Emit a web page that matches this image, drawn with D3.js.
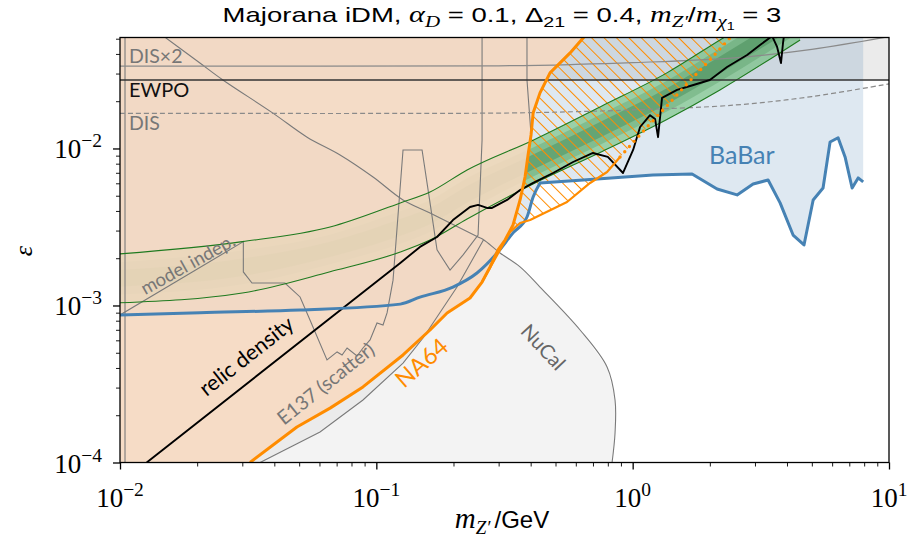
<!DOCTYPE html>
<html>
<head>
<meta charset="utf-8">
<script src="https://cdnjs.cloudflare.com/ajax/libs/d3/7.8.5/d3.min.js"></script>
<style>
  body { margin: 0; background: #fff; }
  svg { display: block; }
</style>
</head>
<body>
<svg id="chart" width="914" height="539"></svg>
<script>
// ---------- data (mass m_Z' in GeV, kinetic mixing epsilon) ----------
const xTickValues = [0.01, 0.1, 1, 10];
const xTickExponents = ["−2", "−1", "0", "1"];
const yTickValues = [1e-4, 1e-3, 1e-2];
const yTickExponents = ["−4", "−3", "−2"];

// BaBar mono-photon bound
const babarMass = [0.01, 0.0205, 0.0504, 0.124, 0.148, 0.199, 0.247, 0.296, 0.3415, 0.387, 0.409, 0.435, 0.641, 1.2, 1.705, 2.135, 2.555, 2.95, 3.376, 3.76, 4.225, 4.66, 5.06, 5.53, 5.89, 6.33, 6.74, 7.18, 7.58, 7.93];
const babarEps  = [8.7e-4, 9.0e-4, 9.36e-4, 1.02e-3, 1.13e-3, 1.31e-3, 1.61e-3, 2.16e-3, 2.9e-3, 3.66e-3, 4.91e-3, 6.03e-3, 6.3e-3, 6.78e-3, 6.88e-3, 5.52e-3, 5.06e-3, 5.94e-3, 6.3e-3, 4.5e-3, 2.81e-3, 2.43e-3, 4.7e-3, 5.6e-3, 1.1e-2, 1.17e-2, 8.83e-3, 5.6e-3, 6.49e-3, 6.12e-3];

// relic density target
const relicMass = [0.01271, 0.124, 0.148, 0.1725, 0.199, 0.232, 0.2494, 0.2703, 0.2827, 0.3236, 0.3637, 0.409, 0.489, 0.5854, 0.7, 0.8, 0.917, 1.004, 1.069, 1.169, 1.223, 1.256, 1.302, 1.49, 1.675, 2.0, 2.335, 2.795, 3.14, 3.5, 3.66, 3.79, 3.86, 3.92];
const relicEps  = [1e-4, 1.866e-3, 2.36e-3, 2.73e-3, 3.5e-3, 4.24e-3, 4.37e-3, 4.18e-3, 4.18e-3, 4.7e-3, 5.44e-3, 6.03e-3, 6.98e-3, 8.2e-3, 9.36e-3, 8.83e-3, 6.98e-3, 9.78e-3, 1.37e-2, 1.63e-2, 1.54e-2, 1.18e-2, 2.1e-2, 2.36e-2, 2.5e-2, 2.73e-2, 3.3e-2, 3.94e-2, 4.56e-2, 5.2e-2, 4.43e-2, 3.5e-2, 4.7e-2, 5.7e-2];

// NA64 missing-energy bound
const na64Mass = [0.03215, 0.049, 0.066, 0.0887, 0.1271, 0.162, 0.1888, 0.232, 0.2585, 0.2778, 0.2984, 0.3178, 0.3415, 0.3637, 0.3803, 0.3908, 0.4014, 0.409, 0.435, 0.476, 0.570, 0.641, 0.682];
const na64Eps  = [1e-4, 1.683e-4, 2.22e-4, 3.03e-4, 4.84e-4, 6.98e-4, 8.96e-4, 1.116e-3, 1.41e-3, 1.76e-3, 2.26e-3, 2.61e-3, 3.26e-3, 4.7e-3, 6.58e-3, 9.09e-3, 1.22e-2, 1.68e-2, 2.26e-2, 3.03e-2, 4.06e-2, 5.06e-2, 5.6e-2];
// inner NA64 edge (solid) and its extension (dotted)
const na64InnerMass = [0.2585, 0.3324, 0.3637, 0.398, 0.5546, 0.682, 0.7945, 0.893];
const na64InnerEps  = [1.41e-3, 2.94e-3, 3.35e-3, 3.5e-3, 4.56e-3, 6.03e-3, 7.08e-3, 8.83e-3];
const na64ProjMass = [0.893, 1.138, 1.362, 1.63, 2.0, 2.356, 2.51];
const na64ProjEps  = [8.83e-3, 1.37e-2, 1.87e-2, 2.58e-2, 3.66e-2, 4.91e-2, 5.52e-2];

// model-independent band
const bandMass  = [0.01, 0.03, 0.066, 0.124, 0.162, 0.226, 0.409, 0.746, 1.36, 2.19, 4.5];
const bandUpper = [2.13e-3, 2.55e-3, 3.16e-3, 4.5e-3, 5.28e-3, 7.3e-3, 1.13e-2, 1.84e-2, 3.03e-2, 4.91e-2, 1.0e-1];
const bandLower = [1.04e-3, 1.2e-3, 1.64e-3, 2.19e-3, 2.61e-3, 3.56e-3, 5.94e-3, 9.43e-3, 1.53e-2, 2.36e-2, 4.91e-2];

// beam dump contours
const dumpUpperMass = [0.0137, 0.0205, 0.0252, 0.0395, 0.0537, 0.0722, 0.0971, 0.1271, 0.162, 0.2494, 0.262, 0.3038, 0.3637, 0.435, 0.6235, 0.7945, 0.8536, 0.8536, 0.8311];
const dumpUpperEps  = [5.69e-2, 3.5e-2, 2.73e-2, 1.68e-2, 1.18e-2, 9.09e-3, 6.58e-3, 4.7e-3, 3.88e-3, 2.73e-3, 2.62e-3, 2.16e-3, 1.76e-3, 1.31e-3, 6.98e-4, 4.06e-4, 2.5e-4, 1.54e-4, 1e-4];
const e137LowerMass = [0.0352, 0.0603, 0.0887, 0.1271, 0.1521, 0.2064, 0.262];
const e137LowerEps  = [1e-4, 1.564e-4, 2.5e-4, 4.3e-4, 6.21e-4, 1.31e-3, 2.62e-3];
const scatterMass = [0.01, 0.03028, 0.03028, 0.03273, 0.044, 0.0504, 0.0551, 0.0642, 0.0703, 0.0735, 0.0769, 0.0841, 0.0887, 0.0945, 0.1006, 0.1062, 0.1101, 0.1162, 0.1271, 0.1508, 0.162, 0.1725, 0.1939, 0.218, 0.2494, 0.2585, 0.2585];
const scatterEps  = [8.7e-4, 2.55e-3, 1.635e-3, 1.39e-3, 1.39e-3, 1.133e-3, 8.08e-4, 4.5e-4, 5.06e-4, 4.84e-4, 5.36e-4, 4.77e-4, 5.36e-4, 6.03e-4, 7.73e-4, 7.51e-4, 8.96e-4, 1.45e-3, 9.78e-3, 9.78e-3, 4.5e-3, 2.26e-3, 1.68e-3, 2.1e-3, 2.81e-3, 1.13e-2, 5.5e-2];
const scatterRightMass = [0.4014, 0.387, 0.387];
const scatterRightEps  = [1.22e-2, 2.73e-2, 5.5e-2];
const edgeMass = [0.01046, 0.01046];
const edgeEps  = [1e-4, 5.5e-2];

// horizontal constraints
const disMass  = [0.01, 0.3, 0.6, 1.0, 2.5, 5.0, 10];
const disEps   = [1.675e-2, 1.68e-2, 1.715e-2, 1.76e-2, 1.89e-2, 2.14e-2, 2.58e-2];
const dis2Eps  = [3.35e-2, 3.36e-2, 3.43e-2, 3.52e-2, 3.78e-2, 4.28e-2, 5.16e-2];
const ewpoMass = [0.01, 10];
const ewpoEps  = [2.73e-2, 2.73e-2];

// ---------- layout ----------
const svg = d3.select("#chart");
const plot = { left: 120, right: 889, top: 37.5, bottom: 462.5 };
const yTop = 0.0509;
const x = d3.scaleLog().domain([0.01, 10]).range([plot.left, plot.right]);
const y = d3.scaleLog().domain([1e-4, yTop]).range([plot.bottom, plot.top]);

const zip = (ms, es) => ms.map((m, i) => [m, es[i]]);
const line = d3.line().x(d => x(d[0])).y(d => y(d[1]));
const smooth = d3.line().x(d => x(d[0])).y(d => y(d[1])).curve(d3.curveCatmullRom.alpha(0.5));
const mono = d3.line().x(d => x(d[0])).y(d => y(d[1])).curve(d3.curveMonotoneX);

const defs = svg.append("defs");
defs.append("clipPath").attr("id", "plotClip").append("rect")
  .attr("x", plot.left).attr("y", plot.top)
  .attr("width", plot.right - plot.left).attr("height", plot.bottom - plot.top);
const hatch = defs.append("pattern").attr("id", "hatch")
  .attr("patternUnits", "userSpaceOnUse").attr("width", 8.8).attr("height", 8.8)
  .attr("patternTransform", "rotate(-45)");
hatch.append("line").attr("x1", 4.4).attr("y1", -1).attr("x2", 4.4).attr("y2", 10)
  .attr("stroke", "#ff8c00").attr("stroke-width", 1);

const g = svg.append("g").attr("clip-path", "url(#plotClip)");

// grey excluded regions
const epsMax = 0.06;
g.append("path")
  .attr("d", line([[0.01, ewpoEps[0]], [10, ewpoEps[1]], [10, epsMax], [0.01, epsMax]]) + "Z")
  .attr("fill", "#ebebeb");
const upperLeft = zip(dumpUpperMass, dumpUpperEps).filter(d => d[0] <= 0.262);
const upperRight = zip(dumpUpperMass, dumpUpperEps).filter(d => d[0] >= 0.262);
const lowerPts = zip(e137LowerMass, e137LowerEps);
g.append("path")
  .attr("d", line([[0.01, epsMax], ...upperLeft, ...lowerPts.slice().reverse(), [0.01, 1e-4]]) + "Z")
  .attr("fill", "#ebebeb");
g.append("path")
  .attr("d", line([...lowerPts, ...upperRight.slice(1)]) + "Z")
  .attr("fill", "#f3f3f3");

// BaBar region
const babarPts = zip(babarMass, babarEps);
g.append("path")
  .attr("d", line([...babarPts, [babarMass[babarMass.length - 1], epsMax], [0.01, epsMax]]) + "Z")
  .attr("fill", "rgba(70,130,180,0.18)");

// model-independent band with a darker core
function subBand(t0, t1) {
  const at = (i, t) => {
    const a = Math.log10(bandLower[i]), b = Math.log10(bandUpper[i]);
    return Math.pow(10, a + t * (b - a));
  };
  return d3.area().x(d => x(d)).y0((d, i) => y(at(i, t0))).y1((d, i) => y(at(i, t1)))
    .curve(d3.curveMonotoneX)(bandMass);
}
[[0, 1, "rgba(70,180,80,0.45)"], [0.17, 0.83, "rgba(40,125,55,0.22)"], [0.33, 0.67, "rgba(30,105,45,0.28)"]]
  .forEach(([a, b, c]) => g.append("path").attr("d", subBand(a, b)).attr("fill", c));

// NA64 excluded region
const na64Pts = zip(na64Mass, na64Eps);
g.append("path")
  .attr("d", line([[0.01, 1e-4], ...na64Pts, [0.01, epsMax]]) + "Z")
  .attr("fill", "rgba(247,217,192,0.88)");

// hatched NA64 projection region
const innerPts = zip(na64InnerMass, na64InnerEps);
const projPts = zip(na64ProjMass, na64ProjEps);
const hatchTop = na64Pts.filter(d => d[0] >= 0.2585);
g.append("path")
  .attr("d", line([...hatchTop, ...projPts.slice().reverse(), ...innerPts.slice().reverse()]) + "Z")
  .attr("fill", "url(#hatch)");

// grey contour lines
const grey = "#7a7a7a";
[[edgeMass, edgeEps], [scatterMass, scatterEps], [e137LowerMass, e137LowerEps], [scatterRightMass, scatterRightEps]].forEach(([m, e]) =>
  g.append("path").attr("d", line(zip(m, e))).attr("fill", "none").attr("stroke", grey).attr("stroke-width", 1.1));
g.append("path").attr("d", smooth(zip(dumpUpperMass, dumpUpperEps)))
  .attr("fill", "none").attr("stroke", grey).attr("stroke-width", 1.1);
g.append("path").attr("d", smooth(zip(disMass, dis2Eps)))
  .attr("fill", "none").attr("stroke", "#8a8a8a").attr("stroke-width", 1.2);
g.append("path").attr("d", smooth(zip(disMass, disEps)))
  .attr("fill", "none").attr("stroke", "#8a8a8a").attr("stroke-width", 1.2).attr("stroke-dasharray", "5,3");

// band edges
[bandUpper, bandLower].forEach(arr =>
  g.append("path").attr("d", mono(zip(bandMass, arr)))
    .attr("fill", "none").attr("stroke", "#1f7a1f").attr("stroke-width", 1.1));

// EWPO
g.append("path").attr("d", line(zip(ewpoMass, ewpoEps)))
  .attr("fill", "none").attr("stroke", "#333").attr("stroke-width", 1.5);

// relic density
g.append("path").attr("d", line(zip(relicMass, relicEps)))
  .attr("fill", "none").attr("stroke", "#000").attr("stroke-width", 1.9).attr("stroke-linejoin", "round");

// BaBar line: smooth rise at low mass, piecewise above
g.append("path").attr("d", mono(babarPts.slice(0, 12)))
  .attr("fill", "none").attr("stroke", "#4682b4").attr("stroke-width", 3).attr("stroke-linecap", "round");
g.append("path").attr("d", line(babarPts.slice(11)))
  .attr("fill", "none").attr("stroke", "#4682b4").attr("stroke-width", 3).attr("stroke-linejoin", "round");

// NA64 lines
g.append("path").attr("d", line(na64Pts))
  .attr("fill", "none").attr("stroke", "#ff8c00").attr("stroke-width", 3).attr("stroke-linejoin", "round");
g.append("path").attr("d", line(innerPts))
  .attr("fill", "none").attr("stroke", "#ff8c00").attr("stroke-width", 2.2).attr("stroke-linejoin", "round");
g.append("path").attr("d", line(projPts))
  .attr("fill", "none").attr("stroke", "#ff8c00").attr("stroke-width", 3.4)
  .attr("stroke-linecap", "round").attr("stroke-dasharray", "0,7");

// ---------- in-plot labels ----------
const sans = "Lato, 'Open Sans', sans-serif";
function label(txt, px, py, angle, size, color, anchor) {
  svg.append("text").attr("transform", `translate(${px},${py}) rotate(${angle})`)
    .attr("text-anchor", anchor || "middle").attr("font-family", sans)
    .attr("font-size", size).attr("fill", color).text(txt);
}
label("DIS×2", 129, 62.5, 0, 19.5, "#777", "start");
label("EWPO", 129, 96.5, 0, 20, "#111", "start");
label("DIS", 129, 129.5, 0, 19.5, "#777", "start");
label("BaBar", 709, 163.5, 0, 25, "#4682b4", "start");
label("relic density", 251, 362, -38.2, 21.5, "#000");
label("model indep.", 191, 270, -29, 18.5, "#777");
label("E137 (scatter)", 330, 389, -38.7, 19.5, "#777");
label("NA64", 427, 369, -41, 23.5, "#ff8c00");
label("NuCal", 538, 352, 47, 20, "#666");

// ---------- axes ----------
const axisG = svg.append("g");
const minorX = x.ticks().filter(v => !xTickValues.some(t => Math.abs(t - v) / t < 1e-6));
const minorY = y.ticks().filter(v => !yTickValues.some(t => Math.abs(t - v) / t < 1e-6));
axisG.append("g").attr("transform", `translate(0,${plot.bottom})`)
  .call(d3.axisBottom(x).tickValues(minorX).tickSize(4).tickFormat(""))
  .call(s => s.select(".domain").remove()).selectAll("line").attr("stroke-width", 0.9);
axisG.append("g").attr("transform", `translate(0,${plot.bottom})`)
  .call(d3.axisBottom(x).tickValues(xTickValues).tickSize(7).tickFormat(""))
  .call(s => s.select(".domain").remove()).selectAll("line").attr("stroke-width", 1.3);
axisG.append("g").attr("transform", `translate(${plot.left},0)`)
  .call(d3.axisLeft(y).tickValues(minorY).tickSize(4).tickFormat(""))
  .call(s => s.select(".domain").remove()).selectAll("line").attr("stroke-width", 0.9);
axisG.append("g").attr("transform", `translate(${plot.left},0)`)
  .call(d3.axisLeft(y).tickValues(yTickValues).tickSize(7).tickFormat(""))
  .call(s => s.select(".domain").remove()).selectAll("line").attr("stroke-width", 1.3);

// frame
svg.append("rect").attr("x", plot.left).attr("y", plot.top)
  .attr("width", plot.right - plot.left).attr("height", plot.bottom - plot.top)
  .attr("fill", "none").attr("stroke", "#000").attr("stroke-width", 1.3);

const serif = "'Liberation Serif', 'DejaVu Serif', serif";
function powLabel(px, py, exp, anchor) {
  const t = svg.append("text").attr("x", px).attr("y", py).attr("text-anchor", anchor)
    .attr("font-family", serif).attr("font-size", 27).attr("fill", "#000");
  t.append("tspan").text("10");
  t.append("tspan").attr("font-size", 19.5).attr("dy", -11).text(exp);
}
xTickValues.forEach((v, i) => powLabel(x(v), 507, xTickExponents[i], "middle"));
yTickValues.forEach((v, i) => powLabel(102, y(v) + 10, yTickExponents[i], "end"));

// axis titles
const xl = svg.append("text").attr("x", 502).attr("y", 528).attr("text-anchor", "middle").attr("fill", "#000");
xl.append("tspan").attr("font-family", serif).attr("font-style", "italic").attr("font-size", 29).text("m");
xl.append("tspan").attr("font-family", serif).attr("font-style", "italic").attr("font-size", 19).attr("dy", 6).text("Z′");
xl.append("tspan").attr("font-family", "'Liberation Sans', sans-serif").attr("font-size", 24).attr("dy", -6).attr("dx", 4).text("/GeV");

svg.append("text").attr("transform", "translate(32,251) rotate(-90)").attr("text-anchor", "middle")
  .attr("font-family", serif).attr("font-style", "italic").attr("font-size", 26).text("ε");

// title, set in a narrowed sans face
const tt = svg.append("text").attr("x", 502).attr("y", 22).attr("text-anchor", "middle")
  .attr("font-family", "'Liberation Sans', sans-serif").attr("font-size", 21).attr("fill", "#000");
const parts = [
  { t: "Majorana iDM, " },
  { t: "α", it: 1 }, { t: "D", it: 1, sub: 1 }, { t: " = 0.1,  " },
  { t: "Δ" }, { t: "21", sub: 1 }, { t: " = 0.4,  " },
  { t: "m", it: 1 }, { t: "Z′", it: 1, sub: 1 }, { t: "/" },
  { t: "m", it: 1 }, { t: "χ", it: 1, sub: 1 }, { t: "1", sub: 2 }, { t: " = 3" }
];
let level = 0;
parts.forEach(p => {
  const target = p.sub || 0;
  const shifts = [0, 5, 8];
  const dy = shifts[target] - shifts[level];
  level = target;
  const s = tt.append("tspan").text(p.t).attr("dy", dy);
  if (p.it) s.attr("font-family", serif).attr("font-style", "italic").attr("font-size", target ? 16 : 23);
  else if (target) s.attr("font-size", target === 2 ? 11 : 15);
});
const titleWidth = tt.node().getComputedTextLength();
const k = 559 / titleWidth;
tt.attr("transform", `translate(502,0) scale(${k},1) translate(-502,0)`);
</script>
</body>
</html>
